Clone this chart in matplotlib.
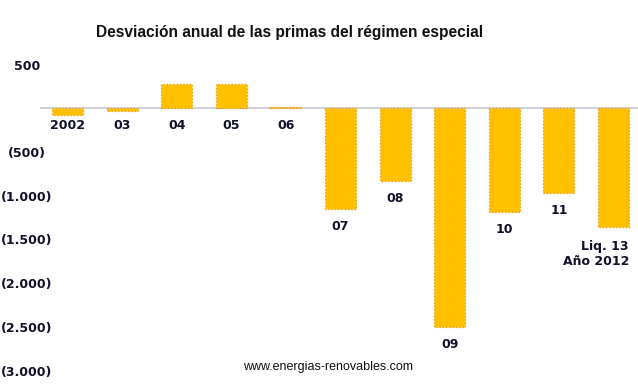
import matplotlib.pyplot as plt

labels = ["2002", "03", "04", "05", "06", "07", "08", "09", "10", "11", "Liq. 13\nAño 2012"]
values = [-80, -30, 280, 280, 20, -1150, -830, -2505, -1185, -965, -1360]
yticks = [500, -500, -1000, -1500, -2000, -2500, -3000]
ytick_labels = ["500", "(500)", "(1.000)", "(1.500)", "(2.000)", "(2.500)", "(3.000)"]

W, H = 638, 388
fig = plt.figure(figsize=(W / 100, H / 100), dpi=100)
ax = fig.add_axes([40 / W, 0, 1 - 40 / W, 1 - 55 / H])

x = list(range(len(values)))
ax.bar(x, values, width=0.57, color="#FFC000", edgecolor="#E89A10",
       linestyle=":", linewidth=0.9, zorder=2)
ax.axhline(0, color="#C8C8D8", linewidth=1.2, zorder=1)

ax.set_xlim(-0.504, 10.45)
ax.set_ylim(-3200, 610)

txt_color = "#10102a"
for i, (lab, v) in enumerate(zip(labels, values)):
    base = v if v < -500 else 0
    if "\n" in lab:
        ax.annotate(lab, (i + 0.285, base), xytext=(0, -9), textcoords="offset points",
                    ha="right", va="top", fontsize=9, fontweight="bold",
                    color=txt_color, linespacing=1.25)
    else:
        ax.annotate(lab, (i, base), xytext=(0, -12.5), textcoords="offset points",
                    ha="center", va="center", fontsize=9, fontweight="bold",
                    color=txt_color)

ax.set_yticks(yticks, ytick_labels)
ax.tick_params(axis="y", length=0, pad=9.5, labelsize=9, labelcolor=txt_color)
for t in ax.get_yticklabels():
    t.set_fontweight("bold")
    t.set_horizontalalignment("center")
ax.set_xticks([])
for s in ax.spines.values():
    s.set_visible(False)

fig.text(290 / W, 1 - 33 / H, "Desviación anual de las primas del régimen especial",
         ha="center", va="center", fontsize=11.2, fontweight="bold",
         family="Liberation Sans", color="#111111")
fig.text(328 / W, 1 - 367 / H, "www.energias-renovables.com", ha="center", va="center",
         fontsize=9, family="Liberation Sans", color="#111111")

fig.savefig("out.png", dpi=100)
